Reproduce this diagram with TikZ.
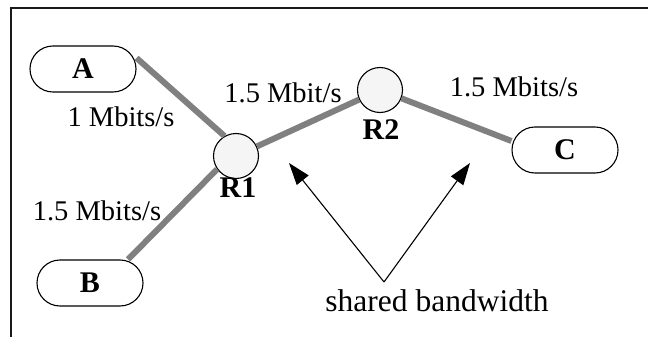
\documentclass[tikz,border=0pt]{standalone}
\usepackage{fontspec}
\setmainfont{Liberation Serif}
\usetikzlibrary{arrows.meta,calc}
\begin{document}
\begin{tikzpicture}[x=1pt,y=-1pt,
  host/.style={draw,line width=1.1pt,rounded corners=23pt,minimum width=106pt,minimum height=46pt,inner sep=0pt,font=\fontsize{30}{34}\selectfont\bfseries},
  router/.style={circle,draw,line width=1.1pt,fill=black!4,minimum size=45pt,inner sep=0pt},
  link/.style={draw=black!50,line width=6pt},
  rate/.style={inner sep=0pt,font=\fontsize{28.5}{34}\selectfont},
  rlabel/.style={inner sep=0pt,font=\fontsize{30}{34}\selectfont\bfseries},
  pointer/.style={draw,line width=1.1pt,-{Triangle[length=22pt,width=15pt]}}]
\useasboundingbox (0,0) rectangle (648,337);
% frame edges
\draw[line width=2pt,black!90] (648,8.5) -- (10.5,8.5) -- (10.5,337);
% routers
\node[router] (R1) at (236,156) {};
\node[router] (R2) at (380,90) {};
% hosts
\node[host] (A) at (83,69) {A};
\node[host] (B) at (90,283) {B};
\node[host] (C) at (565,150) {C};
\coordinate (Ae) at ([yshift=11pt]A.east);
\coordinate (Bt) at ([xshift=38pt]B.north);
\coordinate (Cw) at ([yshift=9pt]C.west);
% links
\draw[link] (Ae) -- (R1.120);
\draw[link] (Bt) -- (R1.215);
\draw[link] (R1) -- (R2);
\draw[link] (R2) -- (Cw);
% router names
\node[rlabel] (n1) at (238,188) {R1};
\node[rlabel] (n2) at (381,130) {R2};
% link rates
\node[rate] (rA) at (121,117) {1 Mbits/s};
\node[rate] (rB) at (97,211) {1.5 Mbits/s};
\node[rate] (rR) at (283,93) {1.5 Mbit/s};
\node[rate] (rC) at (514,87) {1.5 Mbits/s};
% shared bandwidth pointers
\node[rate,font=\fontsize{31.5}{34}\selectfont] (sb) at (437,301) {shared bandwidth};
\coordinate (apex) at (384,282);
\coordinate (t1) at (289,163);
\coordinate (t2) at (470,163);
\draw[pointer] (apex) -- (t1);
\draw[pointer] (apex) -- (t2);
\end{tikzpicture}
\end{document}
